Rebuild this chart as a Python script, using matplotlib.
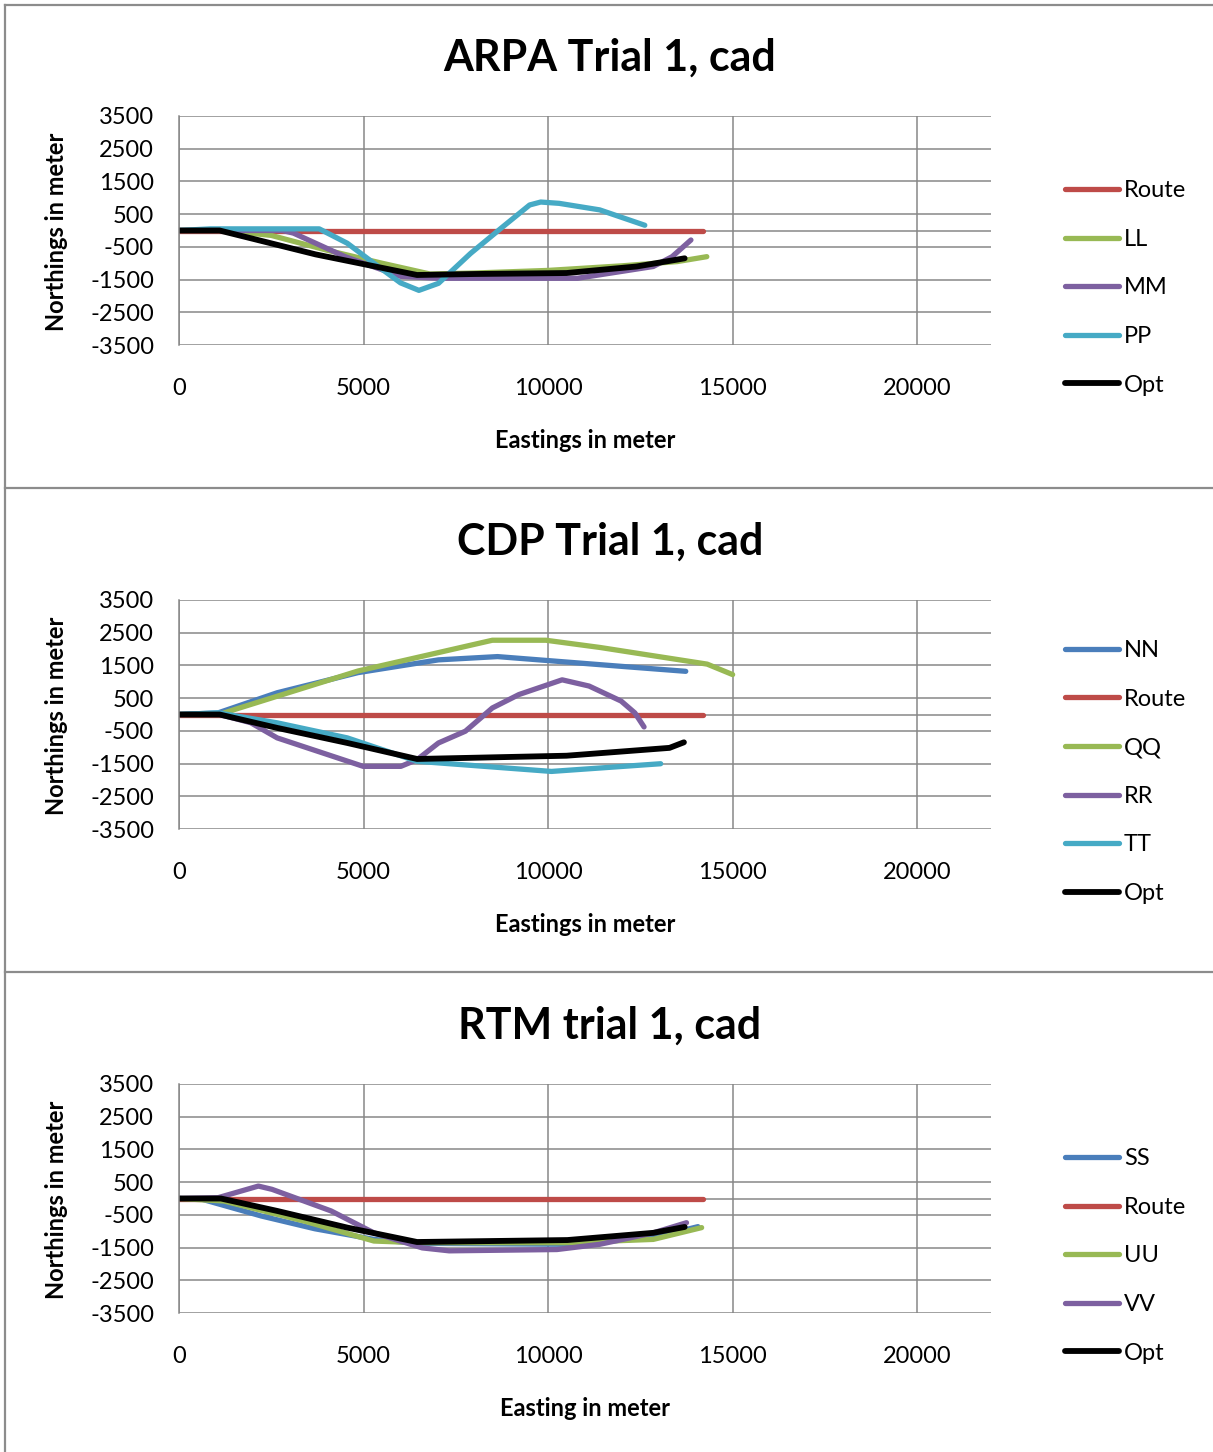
import matplotlib
matplotlib.use("Agg")
import matplotlib.pyplot as plt
from matplotlib.lines import Line2D

plt.rcParams['font.family'] = ['Lato', 'DejaVu Sans']
plt.rcParams['axes.unicode_minus'] = False

# colours (Excel 2007 palette)
RED = '#BE4B48'
GREEN = '#98B954'
PURPLE = '#7D60A0'
AQUA = '#46AAC5'
BLUE = '#4A7EBB'
BLACK = '#000000'

# ---------------- ARPA Trial 1 ----------------
arpa_route_x = [0, 14200]
arpa_route_y = [0, 0]
arpa_ll_x = [0, 1200, 2500, 4000, 5500, 6800, 8000, 10000, 12000, 13500, 14300]
arpa_ll_y = [0, 0, -150, -600, -1000, -1330, -1300, -1220, -1080, -950, -800]
arpa_mm_x = [0, 2800, 3100, 4500, 6000, 7000, 10800, 12850, 13360, 13870]
arpa_mm_y = [0, 0, -80, -800, -1400, -1460, -1460, -1100, -800, -290]
arpa_pp_x = [0, 850, 3800, 4560, 5280, 6000, 6500, 7030, 7900, 8780, 9500, 9800, 10300, 11400, 12620]
arpa_pp_y = [0, 50, 50, -390, -1000, -1600, -1830, -1615, -700, 120, 780, 870, 830, 630, 160]
arpa_opt_x = [0, 1100, 3700, 6450, 8000, 10500, 12400, 13700]
arpa_opt_y = [0, 0, -730, -1360, -1330, -1300, -1100, -850]

# ---------------- CDP Trial 1 ----------------
cdp_nn_x = [0, 1060, 2660, 4850, 7030, 8630, 10090, 12120, 13730]
cdp_nn_y = [0, 50, 665, 1280, 1670, 1770, 1640, 1460, 1320]
cdp_route_x = [0, 14200]
cdp_route_y = [0, 0]
cdp_qq_x = [0, 1100, 1500, 4850, 8490, 9940, 11400, 14310, 15000]
cdp_qq_y = [0, 0, 150, 1330, 2270, 2270, 2050, 1540, 1220]
cdp_rr_x = [0, 1100, 1940, 2660, 4990, 6010, 6450, 7030, 7760, 8490, 9210, 10380, 11110, 11980, 12350, 12600]
cdp_rr_y = [0, 0, -250, -715, -1585, -1585, -1380, -870, -510, 200, 610, 1060, 870, 410, 50, -380]
cdp_tt_x = [0, 1060, 2660, 4560, 6450, 10090, 13050]
cdp_tt_y = [0, 50, -255, -715, -1430, -1740, -1505]
cdp_opt_x = [0, 1100, 2660, 4560, 6450, 10500, 13290, 13680]
cdp_opt_y = [0, 0, -410, -870, -1360, -1260, -1020, -850]

# ---------------- RTM trial 1 ----------------
rtm_ss_x = [0, 630, 2230, 3680, 5280, 6450, 10525, 12850, 14060]
rtm_ss_y = [0, -25, -535, -925, -1250, -1370, -1400, -1200, -860]
rtm_route_x = [0, 14200]
rtm_route_y = [0, 0]
rtm_uu_x = [0, 1210, 3390, 5280, 6450, 10525, 12850, 14160]
rtm_uu_y = [0, -75, -690, -1300, -1350, -1350, -1250, -890]
rtm_vv_x = [0, 1060, 2150, 2520, 4120, 5280, 6590, 7320, 10240, 11400, 12850, 13750]
rtm_vv_y = [0, 25, 380, 280, -380, -1050, -1510, -1600, -1560, -1400, -1050, -740]
rtm_opt_x = [0, 1135, 2660, 4560, 6450, 10525, 12850, 13700]
rtm_opt_y = [0, 0, -380, -890, -1330, -1270, -1050, -870]

y_ticks = [-3500, -2500, -1500, -500, 500, 1500, 2500, 3500]
x_ticks = [0, 5000, 10000, 15000, 20000]

panels = [
    dict(title='ARPA Trial 1, cad', xlabel='Eastings in meter', top=5,
         series=[('Route', arpa_route_x, arpa_route_y, RED),
                 ('LL', arpa_ll_x, arpa_ll_y, GREEN),
                 ('MM', arpa_mm_x, arpa_mm_y, PURPLE),
                 ('PP', arpa_pp_x, arpa_pp_y, AQUA),
                 ('Opt', arpa_opt_x, arpa_opt_y, BLACK)]),
    dict(title='CDP Trial 1, cad', xlabel='Eastings in meter', top=489,
         series=[('NN', cdp_nn_x, cdp_nn_y, BLUE),
                 ('Route', cdp_route_x, cdp_route_y, RED),
                 ('QQ', cdp_qq_x, cdp_qq_y, GREEN),
                 ('RR', cdp_rr_x, cdp_rr_y, PURPLE),
                 ('TT', cdp_tt_x, cdp_tt_y, AQUA),
                 ('Opt', cdp_opt_x, cdp_opt_y, BLACK)]),
    dict(title='RTM trial 1, cad', xlabel='Easting in meter', top=973,
         series=[('SS', rtm_ss_x, rtm_ss_y, BLUE),
                 ('Route', rtm_route_x, rtm_route_y, RED),
                 ('UU', rtm_uu_x, rtm_uu_y, GREEN),
                 ('VV', rtm_vv_x, rtm_vv_y, PURPLE),
                 ('Opt', rtm_opt_x, rtm_opt_y, BLACK)]),
]

W, H = 1213, 1452
fig = plt.figure(figsize=(W / 100, H / 100), dpi=100)
GRID = '#878787'


def fx(px):
    return px / W


def fy(py):
    return 1 - py / H


for p in panels:
    t = p['top']
    # plot area: 3500 at t+111, -3500 at t+340
    ax = fig.add_axes([fx(179), fy(t + 340), fx(991) - fx(179), fy(t + 111) - fy(t + 340)])
    for name, xs, ys, c in p['series']:
        ax.plot(xs, ys, color=c, lw=4.2 if c == BLACK else 3.8, label=name,
                solid_capstyle='round', solid_joinstyle='round')
    ax.set_xlim(0, 22000)
    ax.set_ylim(-3500, 3500)
    ax.set_xticks(x_ticks)
    ax.set_yticks(y_ticks)
    ax.grid(True, color=GRID, lw=1.1)
    ax.set_axisbelow(True)
    ax.axhline(0, color=GRID, lw=1.1, zorder=0.5)
    for s in ['top', 'right', 'bottom']:
        ax.spines[s].set_visible(False)
    ax.spines['left'].set_color(GRID)
    ax.spines['left'].set_linewidth(1.1)
    ax.tick_params(length=0, labelsize=17)
    ax.tick_params(axis='x', pad=24)
    ax.tick_params(axis='y', pad=18)

    fig.text(fx(610), fy(t + 53), p['title'], ha='center', va='center',
             fontsize=31, fontweight='bold')
    fig.text(fx(585), fy(t + 436), p['xlabel'], ha='center', va='center',
             fontsize=17, fontweight='bold')
    fig.text(fx(57), fy(t + 227), 'Northings in meter', ha='center', va='center',
             rotation=90, fontsize=17, fontweight='bold')

    ax.legend(loc='center left', bbox_to_anchor=(fx(1065), fy(t + 283)),
              bbox_transform=fig.transFigure, frameon=False, fontsize=17,
              handlelength=2.3, handletextpad=0.2, labelspacing=1.17,
              borderpad=0, borderaxespad=0)

# chart borders
for yy in [5, 488, 972]:
    fig.add_artist(Line2D([fx(5), 1.0], [fy(yy), fy(yy)], color='#8c8c8c', lw=1.6))
fig.add_artist(Line2D([fx(5), fx(5)], [fy(5), 0], color='#8c8c8c', lw=1.6))

fig.savefig('out.png', dpi=100)
